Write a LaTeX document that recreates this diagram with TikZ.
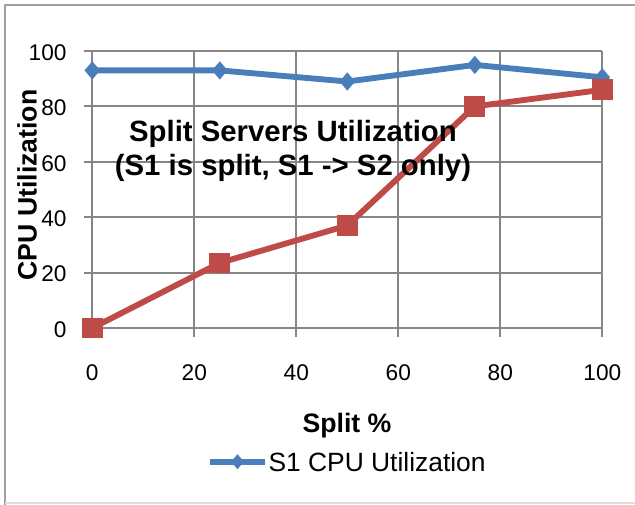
\documentclass[tikz,border=0pt]{standalone}
\usepackage{fontspec}
\setmainfont{Liberation Sans}
\usetikzlibrary{shapes.geometric,calc}

\definecolor{sOneBlue}{HTML}{4A7EBB}
\definecolor{sTwoRed}{HTML}{BE4B48}
\definecolor{gridGray}{HTML}{868686}
\definecolor{frameGray}{HTML}{A0A0A0}

\tikzset{every picture/.style={line width=0.75pt}}
\tikzset{
	gridline/.style={draw=gridGray, line width=1.4pt},
	blueline/.style={draw=sOneBlue, line width=4.4pt, line join=round},
	redline/.style={draw=sTwoRed, line width=4.4pt, line join=round},
	bluemark/.style={diamond, fill=sOneBlue, inner sep=0pt, minimum width=12pt, minimum height=14pt},
	redmark/.style={rectangle, fill=sTwoRed, inner sep=0pt, minimum size=15.5pt},
	ticklab/.style={inner sep=0pt, font=\fontsize{17}{20}\selectfont},
	axislab/.style={inner sep=0pt, font=\fontsize{20}{24}\selectfont\bfseries},
	titlelab/.style={inner sep=0pt, font=\fontsize{22}{26}\selectfont\bfseries},
	legendlab/.style={inner sep=0pt, font=\fontsize{19.8}{23}\selectfont}
}

\begin{document}
\begin{tikzpicture}[x=0.75pt,y=0.75pt,yscale=-1,xscale=1]
				\useasboundingbox (0,0) rectangle (635,504);
				
				%Chart frame
				\draw  [frameGray, line width=1.5pt]  (636,5) -- (5,5) -- (5,505) ;
				\draw  [frameGray!35, line width=1pt]  (5,503) -- (636,503) ;
				
				%Horizontal grid lines
				\draw  [gridline]  (84,51) -- (602.3,51) ;
				\draw  [gridline]  (84,106.4) -- (602.3,106.4) ;
				\draw  [gridline]  (84,161.8) -- (602.3,161.8) ;
				\draw  [gridline]  (84,217.2) -- (602.3,217.2) ;
				\draw  [gridline]  (84,272.6) -- (602.3,272.6) ;
				\draw  [gridline]  (84,328) -- (602.3,328) ;
				%Vertical grid lines
				\draw  [gridline]  (92.3,51) -- (92.3,337) ;
				\draw  [gridline]  (194.3,51) -- (194.3,337) ;
				\draw  [gridline]  (296.3,51) -- (296.3,337) ;
				\draw  [gridline]  (398.3,51) -- (398.3,337) ;
				\draw  [gridline]  (500.3,51) -- (500.3,337) ;
				\draw  [gridline]  (602.3,51) -- (602.3,337) ;
				
				%S1 data points
				\coordinate (b0) at (92.3,70.4) ;
				\coordinate (b25) at (219.8,70.4) ;
				\coordinate (b50) at (347.3,81.5) ;
				\coordinate (b75) at (474.8,64.9) ;
				\coordinate (b100) at (602.3,77.3) ;
				%S2 data points
				\coordinate (r0) at (92.3,328) ;
				\coordinate (r25) at (219.8,262.9) ;
				\coordinate (r50) at (347.3,225.5) ;
				\coordinate (r75) at (474.8,106.4) ;
				\coordinate (r100) at (602.3,89.8) ;
				
				%S1 series
				\draw  [blueline]  (b0) -- (b25) -- (b50) -- (b75) -- (b100) ;
				\node [bluemark] (mb0) at (b0) {};
				\node [bluemark] (mb25) at (b25) {};
				\node [bluemark] (mb50) at (b50) {};
				\node [bluemark] (mb75) at (b75) {};
				\node [bluemark] (mb100) at (b100) {};
				%S2 series
				\draw  [redline]  (r0) -- (r25) -- (r50) -- (r75) -- (r100) ;
				\node [redmark] (mr0) at (r0) {};
				\node [redmark] (mr25) at (r25) {};
				\node [redmark] (mr50) at (r50) {};
				\node [redmark] (mr75) at (r75) {};
				\node [redmark] (mr100) at (r100) {};
				
				% Y tick labels
				\node [ticklab, anchor=east] (y100) at (67,52.5) {100};
				\node [ticklab, anchor=east] (y80) at (67,107.9) {80};
				\node [ticklab, anchor=east] (y60) at (67,163.3) {60};
				\node [ticklab, anchor=east] (y40) at (67,218.7) {40};
				\node [ticklab, anchor=east] (y20) at (67,274.1) {20};
				\node [ticklab, anchor=east] (y0) at (67,329.5) {0};
				% X tick labels
				\node [ticklab, anchor=base] (x0) at (92.3,380) {0};
				\node [ticklab, anchor=base] (x20) at (194.3,380) {20};
				\node [ticklab, anchor=base] (x40) at (296.3,380) {40};
				\node [ticklab, anchor=base] (x60) at (398.3,380) {60};
				\node [ticklab, anchor=base] (x80) at (500.3,380) {80};
				\node [ticklab, anchor=base] (x100) at (602.3,380) {100};
				
				% Axis titles
				\node [axislab, rotate=90] (ytitle) at (27,185) {CPU Utilization};
				\node [axislab, anchor=base] (xtitle) at (347,432) {Split \%};
				
				% Chart title
				\node [titlelab, anchor=base] (title1) at (293,141) {Split Servers Utilization};
				\node [titlelab, anchor=base] (title2) at (293,175) {(S1 is split, S1 -> S2 only)};
				
				% Legend
				\coordinate (lgA) at (210,461.7) ;
				\coordinate (lgB) at (265,461.7) ;
				\draw  [blueline]  (lgA) -- (lgB) ;
				\node [bluemark, minimum width=10pt, minimum height=11.5pt] (lgmark) at ($(lgA)!0.5!(lgB)$) {};
				\node [legendlab, anchor=base west] (lgtext) at (268,471) {S1 CPU Utilization};
				
\end{tikzpicture}
\end{document}
